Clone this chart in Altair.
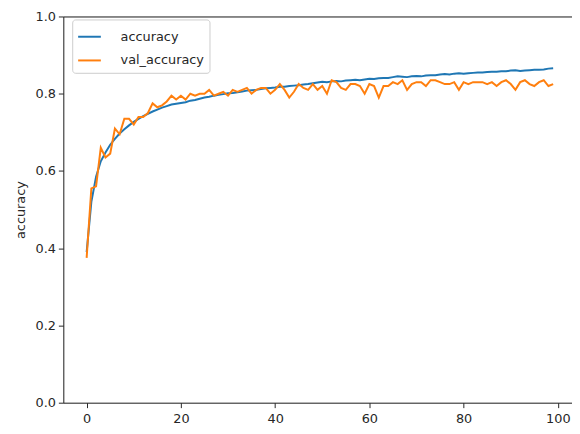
import altair as alt
import pandas as pd

epochs = list(range(100))

accuracy = [
    0.390, 0.520, 0.585, 0.625, 0.648, 0.668, 0.683, 0.697, 0.708, 0.718,
    0.727, 0.735, 0.742, 0.748, 0.754, 0.759, 0.764, 0.768, 0.772, 0.774,
    0.776, 0.778, 0.782, 0.784, 0.787, 0.790, 0.792, 0.795, 0.797, 0.799,
    0.801, 0.802, 0.804, 0.806, 0.808, 0.809, 0.810, 0.812, 0.814, 0.815,
    0.816, 0.818, 0.818, 0.820, 0.821, 0.822, 0.824, 0.825, 0.827, 0.829,
    0.831, 0.830, 0.832, 0.833, 0.832, 0.834, 0.835, 0.836, 0.835, 0.837,
    0.839, 0.838, 0.840, 0.841, 0.841, 0.843, 0.845, 0.844, 0.843, 0.845,
    0.846, 0.845, 0.847, 0.848, 0.848, 0.850, 0.851, 0.850, 0.852, 0.853,
    0.852, 0.853, 0.854, 0.855, 0.855, 0.856, 0.857, 0.857, 0.858, 0.858,
    0.860, 0.861, 0.859, 0.860, 0.861, 0.862, 0.862, 0.863, 0.865, 0.866,
]

val_accuracy = [
    0.375, 0.555, 0.560, 0.660, 0.635, 0.645, 0.710, 0.695, 0.735, 0.735,
    0.720, 0.740, 0.740, 0.750, 0.775, 0.765, 0.770, 0.780, 0.795, 0.785,
    0.795, 0.785, 0.800, 0.795, 0.800, 0.800, 0.810, 0.795, 0.800, 0.805,
    0.795, 0.810, 0.805, 0.810, 0.815, 0.800, 0.810, 0.815, 0.815, 0.800,
    0.810, 0.825, 0.810, 0.790, 0.805, 0.825, 0.815, 0.810, 0.825, 0.810,
    0.820, 0.800, 0.835, 0.830, 0.815, 0.810, 0.825, 0.825, 0.820, 0.800,
    0.825, 0.820, 0.790, 0.820, 0.820, 0.830, 0.825, 0.835, 0.810, 0.825,
    0.830, 0.830, 0.820, 0.835, 0.835, 0.830, 0.825, 0.825, 0.830, 0.810,
    0.830, 0.825, 0.830, 0.830, 0.830, 0.825, 0.830, 0.820, 0.830, 0.835,
    0.825, 0.810, 0.830, 0.835, 0.825, 0.820, 0.830, 0.835, 0.820, 0.825,
]

series_names = ["accuracy", "val_accuracy"]
series_colors = ["#1f77b4", "#ff7f0e"]

df = pd.concat([
    pd.DataFrame({"epoch": epochs, "value": accuracy, "series": "accuracy"}),
    pd.DataFrame({"epoch": epochs, "value": val_accuracy, "series": "val_accuracy"}),
])

FONT = "DejaVu Sans"
FS = 13
INK = "#262626"

x_scale = alt.Scale(domain=[-4.95, 103.0], nice=False, zero=False)
y_scale = alt.Scale(domain=[0, 1], nice=False)

y_enc = alt.Y("value:Q", scale=y_scale,
              axis=alt.Axis(values=[0, 0.2, 0.4, 0.6, 0.8, 1.0], format=".1f",
                            title="accuracy", grid=False, tickSize=5, labelPadding=3,
                            domainColor=INK, tickColor=INK, labelColor=INK,
                            labelFontSize=FS, labelFont=FONT, titleFont=FONT,
                            titleFontSize=FS, titleFontWeight="normal",
                            titleColor=INK, titlePadding=8))

base = alt.Chart(df)

lines = base.mark_line(strokeWidth=2).encode(
    x=alt.X("epoch:Q", scale=x_scale,
            axis=alt.Axis(values=[0, 20, 40, 60, 80, 100], format="d", title=None,
                          grid=False, tickSize=5, labelPadding=5, domainColor=INK,
                          tickColor=INK, labelColor=INK, labelFontSize=FS,
                          labelFont=FONT)),
    y=y_enc,
    color=alt.Color("series:N",
                    scale=alt.Scale(domain=series_names, range=series_colors),
                    legend=alt.Legend(title=None, orient="none", legendX=9, legendY=3,
                                      symbolType="stroke", symbolSize=529,
                                      symbolStrokeWidth=2, labelFont=FONT,
                                      labelFontSize=FS, labelColor=INK,
                                      labelOffset=19, rowPadding=4, padding=5,
                                      strokeColor="#cccccc", fillColor="white",
                                      cornerRadius=3)),
)

top_spine = base.mark_line(opacity=0).encode(
    x=alt.X("epoch:Q", scale=x_scale,
            axis=alt.Axis(orient="top", labels=False, ticks=False, title=None,
                          grid=False, domainColor=INK)),
    y=y_enc,
)

chart = alt.layer(lines, top_spine).resolve_axis(x="independent").properties(
    width=515,
    height=391,
    autosize=alt.AutoSizeParams(type="none"),
    padding={"left": 56, "top": 6, "right": 0, "bottom": 21},
).configure_view(stroke=None).configure(background="white")

chart.save("out.html", embed_options={"renderer": "svg", "actions": False})
